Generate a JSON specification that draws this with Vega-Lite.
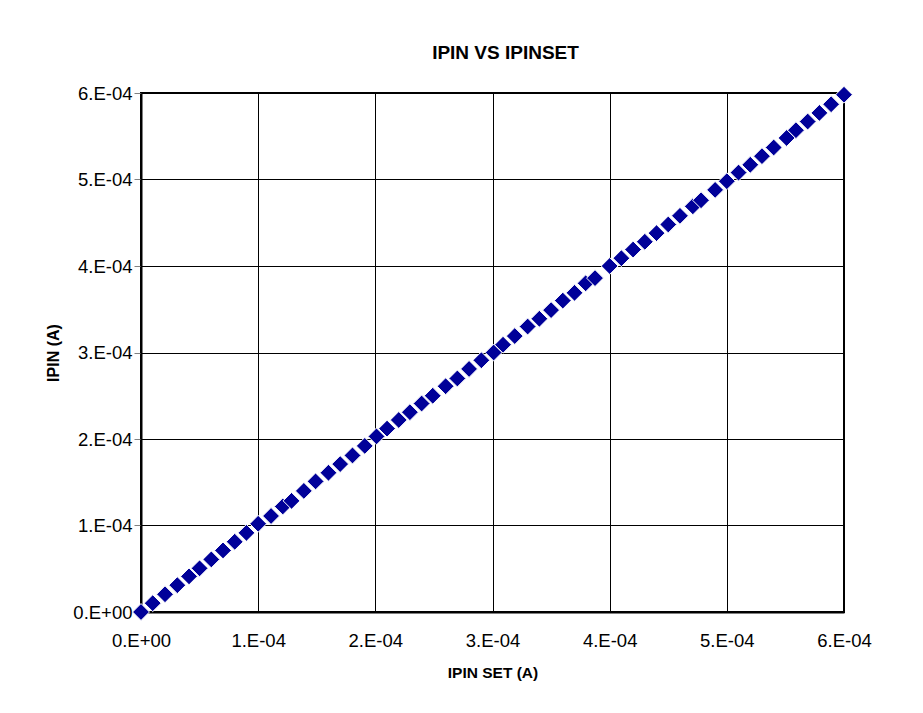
{
  "$schema": "https://vega.github.io/schema/vega-lite/v6.json",
  "width": 703,
  "height": 519,
  "autosize": "none",
  "padding": {"left": 141, "top": 93, "right": 79, "bottom": 101},
  "background": "white",
  "title": {
    "text": "IPIN VS IPINSET",
    "font": "Liberation Sans",
    "fontSize": 19,
    "fontWeight": "bold",
    "color": "#000000",
    "anchor": "middle",
    "dx": 13,
    "offset": 21
  },
  "config": {
    "view": {"stroke": "#000000", "strokeWidth": 2},
    "axis": {
      "labelFont": "Liberation Sans",
      "titleFont": "Liberation Sans",
      "labelColor": "#000000",
      "titleColor": "#000000",
      "domainColor": "#000000",
      "domainWidth": 2,
      "gridColor": "#000000",
      "gridWidth": 1,
      "gridOpacity": 1
    }
  },
  "data": {
    "values": [
      {"x": 0.0, "y": 0.0},
      {"x": 0.00001, "y": 0.0000102},
      {"x": 0.0000205, "y": 0.0000205},
      {"x": 0.000031, "y": 0.000031},
      {"x": 0.000041, "y": 0.0000412},
      {"x": 0.00005, "y": 0.0000505},
      {"x": 0.00006, "y": 0.0000608},
      {"x": 0.00007, "y": 0.0000712},
      {"x": 0.00008, "y": 0.0000812},
      {"x": 0.00009, "y": 0.0000915},
      {"x": 0.0001, "y": 0.000102},
      {"x": 0.000111, "y": 0.000111},
      {"x": 0.000121, "y": 0.000122},
      {"x": 0.0001285, "y": 0.0001285},
      {"x": 0.000139, "y": 0.000140},
      {"x": 0.000149, "y": 0.000151},
      {"x": 0.00016, "y": 0.000161},
      {"x": 0.00017, "y": 0.000171},
      {"x": 0.0001805, "y": 0.000181},
      {"x": 0.000191, "y": 0.000192},
      {"x": 0.000201, "y": 0.000203},
      {"x": 0.00021, "y": 0.000212},
      {"x": 0.00022, "y": 0.000222},
      {"x": 0.0002295, "y": 0.000231},
      {"x": 0.0002395, "y": 0.000241},
      {"x": 0.000249, "y": 0.000250},
      {"x": 0.00026, "y": 0.000261},
      {"x": 0.00027, "y": 0.000270},
      {"x": 0.00028, "y": 0.000281},
      {"x": 0.0002905, "y": 0.000291},
      {"x": 0.000301, "y": 0.000300},
      {"x": 0.000309, "y": 0.000309},
      {"x": 0.000319, "y": 0.000319},
      {"x": 0.00033, "y": 0.000330},
      {"x": 0.00034, "y": 0.000339},
      {"x": 0.00035, "y": 0.000349},
      {"x": 0.00036, "y": 0.000360},
      {"x": 0.00037, "y": 0.000369},
      {"x": 0.0003795, "y": 0.000380},
      {"x": 0.0003875, "y": 0.000386},
      {"x": 0.0004, "y": 0.000400},
      {"x": 0.00041, "y": 0.000409},
      {"x": 0.00042, "y": 0.000419},
      {"x": 0.00043, "y": 0.000428},
      {"x": 0.00044, "y": 0.000438},
      {"x": 0.00045, "y": 0.000448},
      {"x": 0.00046, "y": 0.000458},
      {"x": 0.000471, "y": 0.000469},
      {"x": 0.000478, "y": 0.000476},
      {"x": 0.00049, "y": 0.000488},
      {"x": 0.0005, "y": 0.000498},
      {"x": 0.00051, "y": 0.000508},
      {"x": 0.00052, "y": 0.000517},
      {"x": 0.00053, "y": 0.000527},
      {"x": 0.00054, "y": 0.000537},
      {"x": 0.000551, "y": 0.000548},
      {"x": 0.000559, "y": 0.000557},
      {"x": 0.000569, "y": 0.000567},
      {"x": 0.000579, "y": 0.000577},
      {"x": 0.000589, "y": 0.000587},
      {"x": 0.0006, "y": 0.000598}
    ]
  },
  "mark": {
    "type": "point",
    "shape": "diamond",
    "filled": true,
    "size": 285,
    "color": "#000099",
    "stroke": "#ffffff",
    "strokeWidth": 1,
    "opacity": 1
  },
  "encoding": {
    "x": {
      "field": "x",
      "type": "quantitative",
      "scale": {"domain": [0, 0.0006], "nice": false, "zero": true},
      "axis": {
        "values": [0, 0.0001, 0.0002, 0.0003, 0.0004, 0.0005, 0.0006],
        "labelExpr": "datum.value == 0 ? '0.E+00' : format(datum.value * 10000, '.0f') + '.E-04'",
        "ticks": false,
        "labelPadding": 19,
        "labelFontSize": 18.5,
        "labelFlush": false,
        "labelOverlap": false,
        "title": "IPIN SET (A)",
        "titleFontSize": 15.5,
        "titleFontWeight": "bold",
        "titlePadding": 16
      }
    },
    "y": {
      "field": "y",
      "type": "quantitative",
      "scale": {"domain": [0, 0.0006], "nice": false, "zero": true},
      "axis": {
        "values": [0, 0.0001, 0.0002, 0.0003, 0.0004, 0.0005, 0.0006],
        "labelExpr": "datum.value == 0 ? '0.E+00' : format(datum.value * 10000, '.0f') + '.E-04'",
        "ticks": true,
        "tickSize": 7,
        "tickColor": "#808080",
        "labelPadding": 2,
        "labelFontSize": 18.5,
        "labelFlush": false,
        "labelOverlap": false,
        "title": "IPIN (A)",
        "titleFontSize": 16,
        "titleFontWeight": "bold",
        "titlePadding": 11
      }
    }
  }
}
